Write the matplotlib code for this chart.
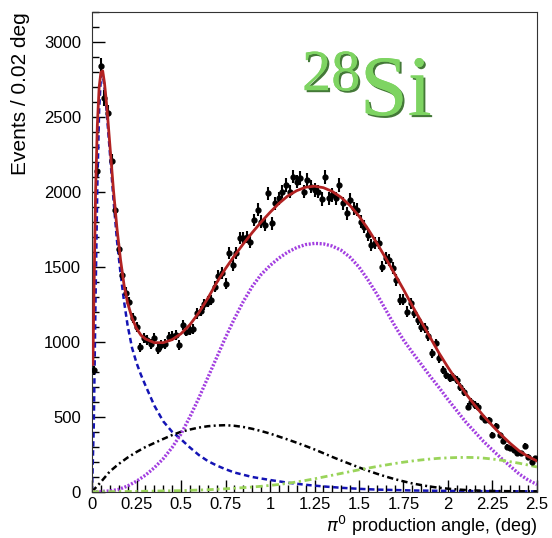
import numpy as np
from matplotlib import pyplot as plt
from matplotlib import patheffects as pe
from matplotlib.ticker import MultipleLocator

plt.rcParams['font.family'] = ['Liberation Sans', 'DejaVu Sans']

# histogram: 0.02 deg bins, counts
bin_lo, bin_w = 0.0, 0.02
counts = [810, 2140, 2840, 2630, 2530, 2210, 1880, 1620, 1450, 1330,
          1265, 1160, 1100, 965, 1025, 1013, 985, 1025, 953, 980,
          985, 1035, 1040, 1047, 980, 1113, 1069, 1080, 1085, 1190,
          1205, 1250, 1269, 1280, 1370, 1440, 1459, 1390, 1592, 1514,
          1592, 1693, 1693, 1700, 1665, 1815, 1882, 1804, 1782, 1993,
          1793, 1926, 1960, 2004, 2049, 2004, 2104, 2071, 2093, 2004,
          2082, 2037, 2015, 2004, 1955, 2100, 1960, 1982, 1960, 2049,
          1926, 1860, 1949, 1893, 1882, 1804, 1770, 1715, 1648, 1659,
          1659, 1503, 1559, 1548, 1492, 1414, 1281, 1281, 1203, 1258,
          1192, 1147, 1100, 1095, 1040, 925, 991, 891, 813, 780,
          757, 768, 746, 701, 668, 568, 601, 579, 568, 501,
          479, 479, 379, 439, 379, 340, 301, 290, 279, 257,
          257, 305, 234, 200, 223]

# fit components
comp_x = [0.00, 0.05, 0.10, 0.15, 0.20, 0.25, 0.30, 0.35, 0.40, 0.45,
          0.50, 0.55, 0.60, 0.65, 0.70, 0.75, 0.80, 0.85, 0.90, 0.95,
          1.00, 1.05, 1.10, 1.15, 1.20, 1.25, 1.30, 1.35, 1.40, 1.45,
          1.50, 1.55, 1.60, 1.65, 1.70, 1.75, 1.80, 1.85, 1.90, 1.95,
          2.00, 2.05, 2.10, 2.15, 2.20, 2.25, 2.30, 2.35, 2.40, 2.45, 2.50]
coherent = [0, 1, 5, 15, 38, 70, 110, 160, 220, 295,
            385, 500, 625, 760, 895, 1030, 1155, 1270, 1370, 1450,
            1510, 1560, 1600, 1630, 1650, 1658, 1655, 1640, 1612, 1565,
            1500, 1415, 1320, 1215, 1110, 1013, 930, 850, 770, 695,
            615, 540, 465, 400, 335, 278, 222, 170, 118, 78, 48]
interference = [0, 65, 135, 185, 228, 265, 298, 325, 352, 378,
                400, 415, 428, 437, 442, 444, 440, 432, 420, 405,
                388, 368, 348, 327, 305, 282, 257, 232, 208, 185,
                162, 140, 120, 101, 84, 69, 55, 44, 34, 26,
                20, 15, 11, 8, 6, 5, 4, 3, 3, 2, 2]
incoherent = [0, 0, 0, 1, 1, 2, 3, 4, 5, 6,
              7, 9, 11, 13, 16, 19, 23, 27, 31, 36,
              42, 48, 56, 65, 75, 86, 98, 110, 122, 134,
              146, 157, 168, 178, 188, 197, 205, 212, 218, 223,
              226, 228, 229, 228, 224, 218, 210, 200, 190, 178, 165]

prim_x = [0.00, 0.01, 0.02, 0.03, 0.04, 0.05, 0.06, 0.07, 0.08, 0.09,
          0.10, 0.12, 0.14, 0.16, 0.18, 0.20, 0.225, 0.25, 0.275, 0.30,
          0.35, 0.40, 0.45, 0.50, 0.55, 0.60, 0.65, 0.70, 0.75, 0.80,
          0.90, 1.00, 1.10, 1.20, 1.30, 1.40, 1.50, 1.60, 1.80, 2.00, 2.25, 2.50]
primakoff = [0, 450, 1300, 2050, 2550, 2770, 2790, 2700, 2570, 2420,
             2270, 1960, 1680, 1460, 1270, 1110, 960, 860, 780, 710,
             575, 470, 400, 350, 295, 245, 205, 175, 150, 128,
             98, 78, 60, 46, 35, 26, 19, 14, 8, 5, 3, 2]

total_x = [0.005, 0.01, 0.02, 0.03, 0.04, 0.05, 0.06, 0.07, 0.08, 0.09,
           0.10, 0.12, 0.14, 0.16, 0.18, 0.20, 0.225, 0.25, 0.275, 0.30,
           0.35, 0.40, 0.45, 0.50, 0.55, 0.60, 0.65, 0.70, 0.75, 0.80,
           0.85, 0.90, 0.95, 1.00, 1.05, 1.10, 1.15, 1.20, 1.25, 1.30,
           1.35, 1.40, 1.45, 1.50, 1.55, 1.60, 1.65, 1.70, 1.75, 1.80,
           1.85, 1.90, 1.95, 2.00, 2.05, 2.10, 2.15, 2.20, 2.25, 2.30,
           2.35, 2.40, 2.45, 2.50]
total = [850, 1250, 2000, 2450, 2700, 2800, 2810, 2730, 2610, 2470,
         2320, 2020, 1760, 1550, 1380, 1260, 1160, 1090, 1045, 1020,
         995, 995, 1015, 1055, 1115, 1195, 1290, 1395, 1490, 1575,
         1655, 1730, 1800, 1865, 1925, 1975, 2010, 2033, 2040, 2030,
         2005, 1965, 1910, 1840, 1755, 1660, 1560, 1455, 1350, 1240,
         1135, 1030, 925, 830, 740, 655, 578, 505, 440, 378,
         322, 272, 235, 205]

fig = plt.figure(figsize=(5.52, 5.38), dpi=100)
ax = fig.add_axes([0.1667, 0.0861, 0.8061, 0.8907])

centers = bin_lo + bin_w * (np.arange(len(counts)) + 0.5)
ax.plot(prim_x, primakoff, color='#1414b4', lw=1.8, linestyle=(0, (2.2, 1.4)))
ax.plot(comp_x, interference, color='black', lw=1.8, linestyle=(0, (2.5, 1.3, 0.8, 1.3)))
ax.plot(comp_x, coherent, color='#a23ee0', lw=2.4, linestyle=(0, (0.6, 0.5)))
ax.plot(comp_x, incoherent, color='#9ad45a', lw=2.0, linestyle=(0, (2.5, 1.3, 0.8, 1.3)))
ax.errorbar(centers, counts, yerr=np.sqrt(counts), xerr=bin_w / 2, fmt='o', ms=3.5,
            color='black', elinewidth=1.5, capsize=0, zorder=3)
ax.plot(total_x, total, color='#b22222', lw=2.0, zorder=4)

ax.set_xlim(0, 2.5)
ax.set_ylim(0, 3200)
ax.xaxis.set_minor_locator(MultipleLocator(0.05))
ax.yaxis.set_major_locator(MultipleLocator(500))
ax.yaxis.set_minor_locator(MultipleLocator(100))
ax.set_xticks([0, 0.25, 0.5, 0.75, 1, 1.25, 1.5, 1.75, 2, 2.25, 2.5])
ax.set_xticklabels(['0', '0.25', '0.5', '0.75', '1', '1.25', '1.5', '1.75', '2', '2.25', '2.5'])
ax.tick_params(which='both', direction='in', top=False, right=False, labelsize=12)
ax.tick_params(axis='x', pad=4)
ax.tick_params(axis='y', pad=8)
ax.tick_params(which='major', length=9, width=1)
ax.tick_params(which='minor', length=5, width=1)
for s in ax.spines.values():
    s.set_color('#333333')

ax.set_ylabel('Events / 0.02 deg', fontsize=15, loc='top', labelpad=10)
ax.set_xlabel(r'$\pi^0$ production angle, (deg)', fontsize=13, loc='right', labelpad=1)

# element label
shadow = [pe.withSimplePatchShadow(offset=(1.5, -1.5), shadow_rgbFace='#2f6a22', alpha=0.9), pe.Normal()]
ax.text(0.472, 0.838, '28', transform=ax.transAxes, fontsize=42, family='Liberation Serif',
        color='#7ed462', va='baseline', ha='left', path_effects=shadow)
ax.text(0.602, 0.786, 'Si', transform=ax.transAxes, fontsize=62, family='Liberation Serif',
        color='#7ed462', va='baseline', ha='left', path_effects=shadow)

fig.savefig('out.png', dpi=100)
